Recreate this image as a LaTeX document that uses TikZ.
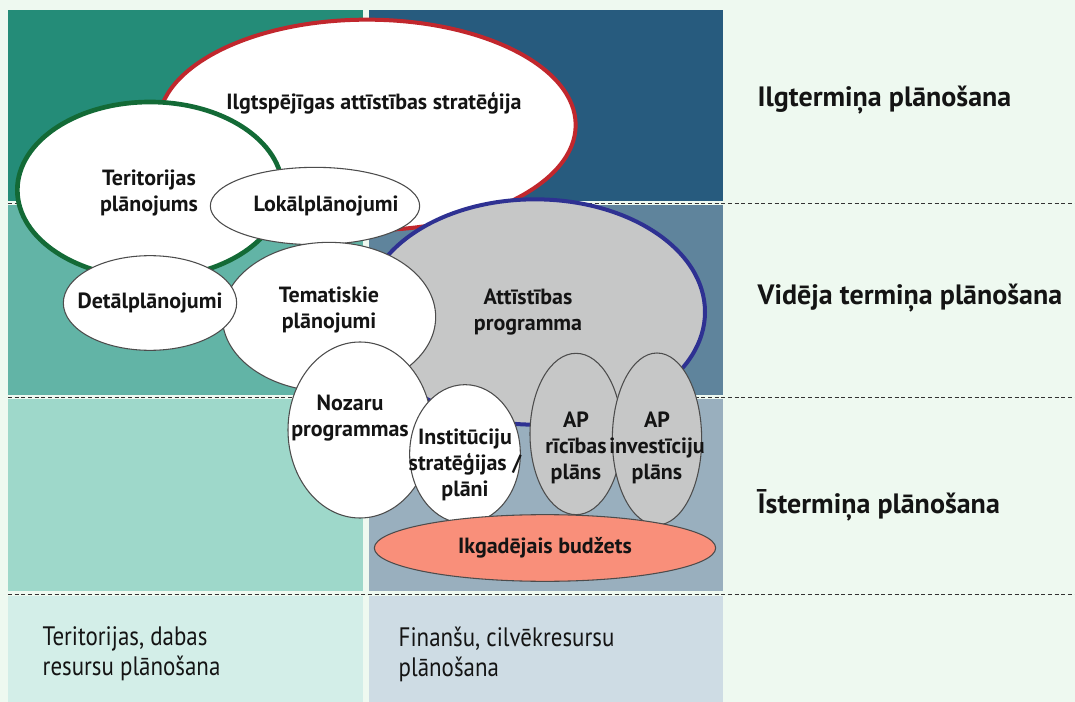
\documentclass[tikz,border=0pt]{standalone}
\usepackage{fontspec}
\setmainfont{PT Sans}
\newfontfamily\narrowsans[FakeStretch=0.86]{PT Sans}
\usetikzlibrary{shapes.geometric}

\definecolor{bgmint}{HTML}{EEF9F0}
\definecolor{rowAl}{HTML}{248C78}
\definecolor{rowAr}{HTML}{275B7E}
\definecolor{rowBl}{HTML}{62B4A6}
\definecolor{rowBr}{HTML}{5F849C}
\definecolor{rowCl}{HTML}{9ED8CA}
\definecolor{rowCr}{HTML}{99AFBE}
\definecolor{rowDl}{HTML}{D3EEE8}
\definecolor{rowDr}{HTML}{CEDCE4}
\definecolor{ellgray}{HTML}{C6C7C7}
\definecolor{salmon}{HTML}{F98F7A}
\definecolor{ringred}{HTML}{C1272D}
\definecolor{ringgreen}{HTML}{136A36}
\definecolor{ringblue}{HTML}{2E3192}
\definecolor{inkdark}{HTML}{141414}

\begin{document}
\begin{tikzpicture}[x=0.75pt,y=-0.75pt,
  ell/.style={ellipse,draw=black!70,line width=.8pt,fill=white,inner sep=0pt},
  lbl/.style={align=center,font=\bfseries\fontsize{16.5}{19.5}\selectfont,text=inkdark},
  side/.style={anchor=west,font=\bfseries\fontsize{21}{25}\selectfont,text=inkdark},
  foot/.style={anchor=north west,align=left,font=\narrowsans\fontsize{20}{22.5}\selectfont,text=inkdark},
  sepline/.style={black!80,line width=.6pt,dash pattern=on 3pt off 2pt}]
\useasboundingbox (0,0) rectangle (1075,702);
\fill[bgmint] (0,0) rectangle (1075,702);
% column blocks, one per time horizon
\fill[rowAl] (8,10) rectangle (363,201);
\fill[rowAr] (369,10) rectangle (723,201);
\fill[rowBl] (8,205) rectangle (363,395);
\fill[rowBr] (369,205) rectangle (723,395);
\fill[rowCl] (8,399) rectangle (363,591);
\fill[rowCr] (369,399) rectangle (723,591);
\fill[rowDl] (8,596) rectangle (363,702);
\fill[rowDr] (369,596) rectangle (723,702);
\foreach \yy in {203,397,594}
  \draw[sepline] (8,\yy) -- (1075,\yy);

% ellipses
\node[ell,draw=ringred,line width=3pt,minimum width=313pt,minimum height=158pt] (sust) at (367,125) {};
\node[ell,draw=ringgreen,line width=3.5pt,minimum width=199pt,minimum height=132pt] (terit) at (150,190) {};
\node[ell,draw=ringblue,line width=3pt,fill=ellgray,minimum width=255pt,minimum height=169pt] (attist) at (535,312) {};
\node[ell,minimum width=157pt,minimum height=58pt] (lokal) at (315,206) {};
\node[ell,minimum width=160pt,minimum height=112pt] (temat) at (329,317) {};
\node[ell,minimum width=130pt,minimum height=71pt] (detal) at (150,303) {};
\node[ell,minimum width=108pt,minimum height=132pt] (nozaru) at (360,430) {};
\node[ell,minimum width=83pt,minimum height=104pt] (instit) at (465,454) {};
\node[ell,fill=ellgray,minimum width=69pt,minimum height=121pt] (aprb) at (576,434) {};
\node[ell,fill=ellgray,minimum width=67pt,minimum height=129pt] (apinv) at (657,439) {};
\node[ell,fill=salmon,minimum width=256pt,minimum height=50pt] (budz) at (545,548) {};

% ellipse texts
\node[lbl] at ([shift={(7,-22)}]sust.center) {Ilgtspējīgas attīstības stratēģija};
\node[lbl] at ([shift={(-1,3)}]terit.center) {Teritorijas\\plānojums};
\node[lbl] at ([shift={(11,0)}]lokal.center) {Lokālplānojumi};
\node[lbl] at ([shift={(-7,0)}]attist.center) {Attīstības\\programma};
\node[lbl] at (detal.center) {Detālplānojumi};
\node[lbl] at ([shift={(0,-7)}]temat.center) {Tematiskie\\plānojumi};
\node[lbl] at ([shift={(-10,-12)}]nozaru.center) {Nozaru\\programmas};
\node[lbl] at ([shift={(0,11)}]instit.center) {Institūciju\\stratēģijas /\\plāni};
\node[lbl] at ([shift={(0,14)}]aprb.center) {AP\\rīcības\\plāns};
\node[lbl] at ([shift={(0,9)}]apinv.center) {AP\\investīciju\\plāns};
\node[lbl] at (budz.center) {Ikgadējais budžets};

% horizon and resource labels
\node[side] (hlong) at (753,100) {Ilgtermiņa plānošana};
\node[side] (hmid) at (753,298) {Vidēja termiņa plānošana};
\node[side] (hshort) at (753,505) {Īstermiņa plānošana};
\node[foot] (fterr) at (38,622) {Teritorijas, dabas\\resursu plānošana};
\node[foot] (ffin) at (394,622) {Finanšu, cilvēkresursu\\plānošana};
\end{tikzpicture}
\end{document}
